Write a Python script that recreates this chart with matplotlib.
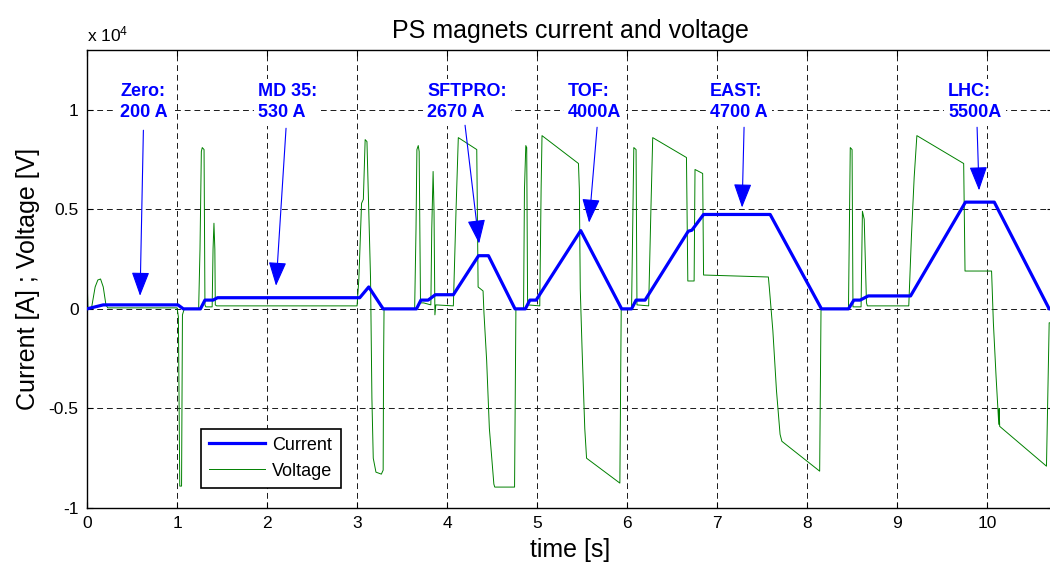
import matplotlib
matplotlib.use('Agg')
import matplotlib.pyplot as plt

plt.rcParams['font.family'] = ['Liberation Sans', 'DejaVu Sans']
plt.rcParams['mathtext.fontset'] = 'custom'
plt.rcParams['mathtext.rm'] = 'Liberation Sans'
plt.rcParams['mathtext.default'] = 'regular'
plt.rcParams['axes.unicode_minus'] = False

# current trace [s], [A]
current_t = [0.0, 0.18, 1.01, 1.07, 1.26, 1.31, 1.40, 1.45, 3.03, 3.13, 3.29,
             3.66, 3.71, 3.79, 3.87, 4.07, 4.35, 4.46, 4.755, 4.87, 4.92, 4.99,
             5.485, 5.94, 6.05, 6.10, 6.20, 6.68, 6.72, 6.85, 7.59, 8.16, 8.46,
             8.52, 8.59, 8.68, 9.15, 9.76, 10.08, 10.69, 10.75]
current_a = [0, 200, 200, 0, 0, 440, 440, 560, 560, 1100, 0,
             0, 440, 440, 710, 710, 2670, 2670, 0, 0, 440, 440,
             3930, 0, 0, 440, 440, 3900, 3950, 4740, 4740, 0, 0,
             440, 440, 650, 650, 5360, 5360, 0, 0]

# voltage trace [s], [V]
voltage_t = [0.0, 0.003, 0.01, 0.05, 0.09, 0.12, 0.15, 0.18, 0.21, 0.23,
             1.00, 1.015, 1.03, 1.05, 1.06, 1.08, 1.24, 1.255, 1.27, 1.28, 1.30,
             1.31, 1.32, 1.39, 1.40, 1.41, 1.42, 1.425, 1.44,
             3.00, 3.02, 3.05, 3.07, 3.09, 3.11, 3.13, 3.15, 3.165, 3.18, 3.21,
             3.27, 3.29, 3.295, 3.30,
             3.64, 3.655, 3.665, 3.68, 3.69, 3.705, 3.74, 3.82, 3.83, 3.845,
             3.855, 3.865, 3.875,
             4.07, 4.10, 4.125, 4.33, 4.345, 4.40, 4.41, 4.44, 4.47, 4.52, 4.53,
             4.75, 4.765,
             4.85, 4.86, 4.875, 4.885, 4.895,
             5.03, 5.045, 5.055, 5.46, 5.47, 5.48, 5.50, 5.53, 5.55, 5.92, 5.935,
             6.05, 6.065, 6.075, 6.10, 6.11,
             6.24, 6.265, 6.285, 6.66, 6.675, 6.745, 6.755, 6.84, 6.85,
             7.57, 7.58, 7.62, 7.66, 7.70, 7.72, 8.14, 8.155,
             8.46, 8.47, 8.48, 8.50, 8.51, 8.60, 8.615, 8.635, 8.66, 8.67,
             9.13, 9.16, 9.19, 9.22, 9.74, 9.755, 10.05, 10.07, 10.10, 10.13,
             10.135, 10.14, 10.66, 10.69, 10.75]
voltage_v = [0, 1150, 0, 50, 1100, 1450, 1500, 1100, 200, 50,
             50, -400, -8900, -8900, -300, 0, 0, 3000, 7900, 8100, 8000,
             200, 100, 100, 3000, 4300, 3000, 200, 150,
             150, 1500, 5300, 5500, 8500, 8400, 5000, 1500, -4500, -7500, -8200,
             -8300, -8100, -2400, 0,
             0, 4000, 8000, 8200, 7900, 300, 300, 200, 4000, 6900,
             5000, -300, 200,
             150, 5000, 8600, 8000, 1100, 900, -200, -2600, -6000, -8800, -8950,
             -8950, 0,
             0, 6000, 8200, 8100, 200,
             150, 6000, 8700, 7300, 6000, 1000, -2000, -6000, -7500, -8750, 0,
             0, 5000, 8100, 8000, 200,
             150, 5000, 8600, 7600, 1400, 1400, 7000, 6800, 1700,
             1600, 1100, -1100, -4100, -6300, -6650, -8150, 0,
             0, 4000, 8100, 8000, 100, 100, 4900, 4500, 300, 150,
             150, 3700, 6600, 8700, 7300, 1900, 1900, -700, -3400, -5800,
             -5000, -5900, -7900, -700, -700]

# annotations: label, text corner, arrow tail, arrow tip
labels = ['Zero:\n200 A', 'MD 35:\n530 A', 'SFTPRO:\n2670 A',
          'TOF:\n4000A', 'EAST:\n4700 A', 'LHC:\n5500A']
label_xy = [(0.367, 11350), (1.90, 11350), (3.78, 11350),
            (5.344, 11350), (6.922, 11350), (9.567, 11350)]
arrow_tail = [(0.626, 8970), (2.211, 9070), (4.200, 9220),
              (5.667, 9120), (7.300, 9120), (9.889, 9120)]
arrow_tip = [(0.589, 655), (2.100, 1160), (4.356, 3280),
             (5.578, 4330), (7.278, 5090), (9.911, 5950)]

fig = plt.figure(figsize=(10.5, 5.65), dpi=100)
ax = fig.add_axes([0.0829, 0.1009, 0.92, 0.8106])

ax.plot(current_t, current_a, color=(0, 0, 1), lw=2.3, label='Current', zorder=3)
ax.plot(voltage_t, voltage_v, color=(0, 0.5, 0), lw=0.7, label='Voltage', zorder=2)

ax.set_xlim(0, 10.733)
ax.set_ylim(-10000, 13000)
ax.set_xticks(range(0, 11))
ax.set_yticks([-10000, -5000, 0, 5000, 10000])
ax.set_yticklabels(['-1', '-0.5', '0', '0.5', '1'])
ax.tick_params(direction='in', top=True, right=True, length=4, labelsize=12.5, pad=6)
ax.grid(True, color='0.1', lw=0.7, linestyle=(0, (6, 4)))
for s in ax.spines.values():
    s.set_linewidth(1.0)

ax.text(0, 1.012, r'x 10$^{4}$', transform=ax.transAxes, ha='left', va='bottom',
        fontsize=12.5)

ax.set_title('PS magnets current and voltage', fontsize=18, pad=9)
ax.set_xlabel('time [s]', fontsize=18, labelpad=5)
ax.set_ylabel('Current [A] ; Voltage [V]', fontsize=18, labelpad=6)

for lab, xy, tail, tip in zip(labels, label_xy, arrow_tail, arrow_tip):
    ax.text(xy[0], xy[1], lab, color=(0, 0, 1), fontsize=13, fontweight='bold',
            ha='left', va='top', linespacing=1.35, zorder=4,
            bbox=dict(facecolor='white', edgecolor='none', pad=3))
    ax.annotate('', xy=tip, xytext=tail, zorder=5,
                arrowprops=dict(arrowstyle='-|>,head_length=0.75,head_width=0.28',
                                color=(0, 0, 1), lw=0.8, mutation_scale=20,
                                shrinkA=0, shrinkB=0))

leg = ax.legend(loc='lower left', bbox_to_anchor=(0.118, 0.044), fontsize=13,
                handlelength=3.1, handletextpad=0.4, borderpad=0.45,
                labelspacing=0.5, borderaxespad=0, fancybox=False,
                framealpha=1, edgecolor='black')
leg.get_frame().set_linewidth(1.2)

fig.savefig('out.png', dpi=100)
